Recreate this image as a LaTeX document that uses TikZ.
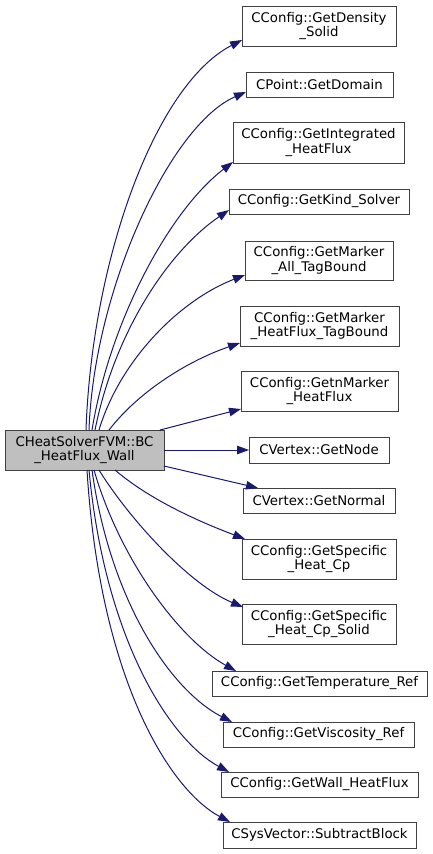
\documentclass[tikz,border=0pt]{standalone}
\usepackage{fontspec}
\setmainfont{DejaVu Sans}
\usetikzlibrary{arrows.meta}
\definecolor{edgeblue}{HTML}{191970}
\definecolor{boxline}{HTML}{404040}
\definecolor{mainfill}{HTML}{BFBFBF}
\tikzset{
  fbox/.style={draw=boxline, line width=1pt, fill=white, inner sep=0pt, outer sep=0pt,
    align=center, font=\fontsize{13.3}{14.6}\selectfont},
  mainbox/.style={fbox, fill=mainfill},
  call/.style={draw=edgeblue, line width=1pt, -{Triangle[length=12pt,width=8.5pt]}, edgeblue},
}
\begin{document}
\begin{tikzpicture}[x=1pt,y=-1pt]
\useasboundingbox (0,0) rectangle (432,854);
\node[mainbox, minimum width=159, minimum height=40] (main) at (84.5,450) {CHeatSolverFVM::BC\\\_HeatFlux\_Wall};
\node[fbox, minimum width=154, minimum height=40] (dens) at (319,26) {CConfig::GetDensity\\\_Solid};
\node[fbox, minimum width=147, minimum height=25] (dom) at (319.5,84.5) {CPoint::GetDomain};
\node[fbox, minimum width=171, minimum height=41] (integ) at (318.5,142.5) {CConfig::GetIntegrated\\\_HeatFlux};
\node[fbox, minimum width=180, minimum height=25] (kind) at (319,201.5) {CConfig::GetKind\_Solver};
\node[fbox, minimum width=148, minimum height=39] (mall) at (319,260.5) {CConfig::GetMarker\\\_All\_TagBound};
\node[fbox, minimum width=159, minimum height=40] (mhf) at (319.5,326) {CConfig::GetMarker\\\_HeatFlux\_TagBound};
\node[fbox, minimum width=157, minimum height=40] (nmhf) at (319.5,391) {CConfig::GetnMarker\\\_HeatFlux};
\node[fbox, minimum width=140, minimum height=26] (vnode) at (319,450) {CVertex::GetNode};
\node[fbox, minimum width=152, minimum height=25] (normal) at (319,500.5) {CVertex::GetNormal};
\node[fbox, minimum width=154, minimum height=40] (cp) at (319,559) {CConfig::GetSpecific\\\_Heat\_Cp};
\node[fbox, minimum width=154, minimum height=40] (cps) at (319,624) {CConfig::GetSpecific\\\_Heat\_Cp\_Solid};
\node[fbox, minimum width=215, minimum height=25] (tref) at (319.5,683.5) {CConfig::GetTemperature\_Ref};
\node[fbox, minimum width=191, minimum height=25] (vref) at (318.5,734.5) {CConfig::GetViscosity\_Ref};
\node[fbox, minimum width=197, minimum height=25] (whf) at (319.5,784.5) {CConfig::GetWall\_HeatFlux};
\node[fbox, minimum width=193, minimum height=26] (sub) at (319.5,835) {CSysVector::SubtractBlock};

% upward edges
\draw[call] ([xshift=1.5pt]main.north) .. controls (92,260) and (155,85) .. ([yshift=6pt]dens.south west);
\draw[call] ([xshift=4.5pt]main.north) .. controls (94,290) and (170,125) .. ([yshift=5pt]dom.south west);
\draw[call] ([xshift=7.5pt]main.north) .. controls (110,320) and (170,210) .. ([yshift=1pt]integ.south west);
\draw[call] ([xshift=10.5pt]main.north) .. controls (115,330) and (170,250) .. ([yshift=4pt]kind.south west);
\draw[call] ([xshift=14.5pt]main.north) .. controls (120,360) and (180,300) .. ([yshift=5pt]mall.south west);
\draw[call] ([xshift=24.5pt]main.north) .. controls (140,390) and (190,360) .. ([yshift=3pt]mhf.south west);
\draw[call] ([xshift=-4pt]main.north east) -- ([yshift=2pt]nmhf.south west);
\draw[call] (main.east) -- (vnode.west);
\draw[call] ([yshift=4pt]main.south east) -- ([xshift=15pt]normal.north west);
% downward edges
\draw[call] ([xshift=30.5pt]main.south) .. controls (150,500) and (200,522) .. ([xshift=3pt]cp.north west);
\draw[call] ([xshift=14.5pt]main.south) .. controls (130,520) and (190,585) .. ([xshift=1pt,yshift=-3pt]cps.north west);
\draw[call] ([xshift=9.5pt]main.south) .. controls (120,560) and (180,640) .. ([xshift=24pt]tref.north west);
\draw[call] ([xshift=7.5pt]main.south) .. controls (110,600) and (170,690) .. ([xshift=9pt]vref.north west);
\draw[call] ([xshift=4.5pt]main.south) .. controls (105,640) and (170,740) .. ([xshift=8pt]whf.north west);
\draw[call] ([xshift=2.5pt]main.south) .. controls (100,680) and (170,790) .. ([xshift=7pt]sub.north west);
\end{tikzpicture}
\end{document}
